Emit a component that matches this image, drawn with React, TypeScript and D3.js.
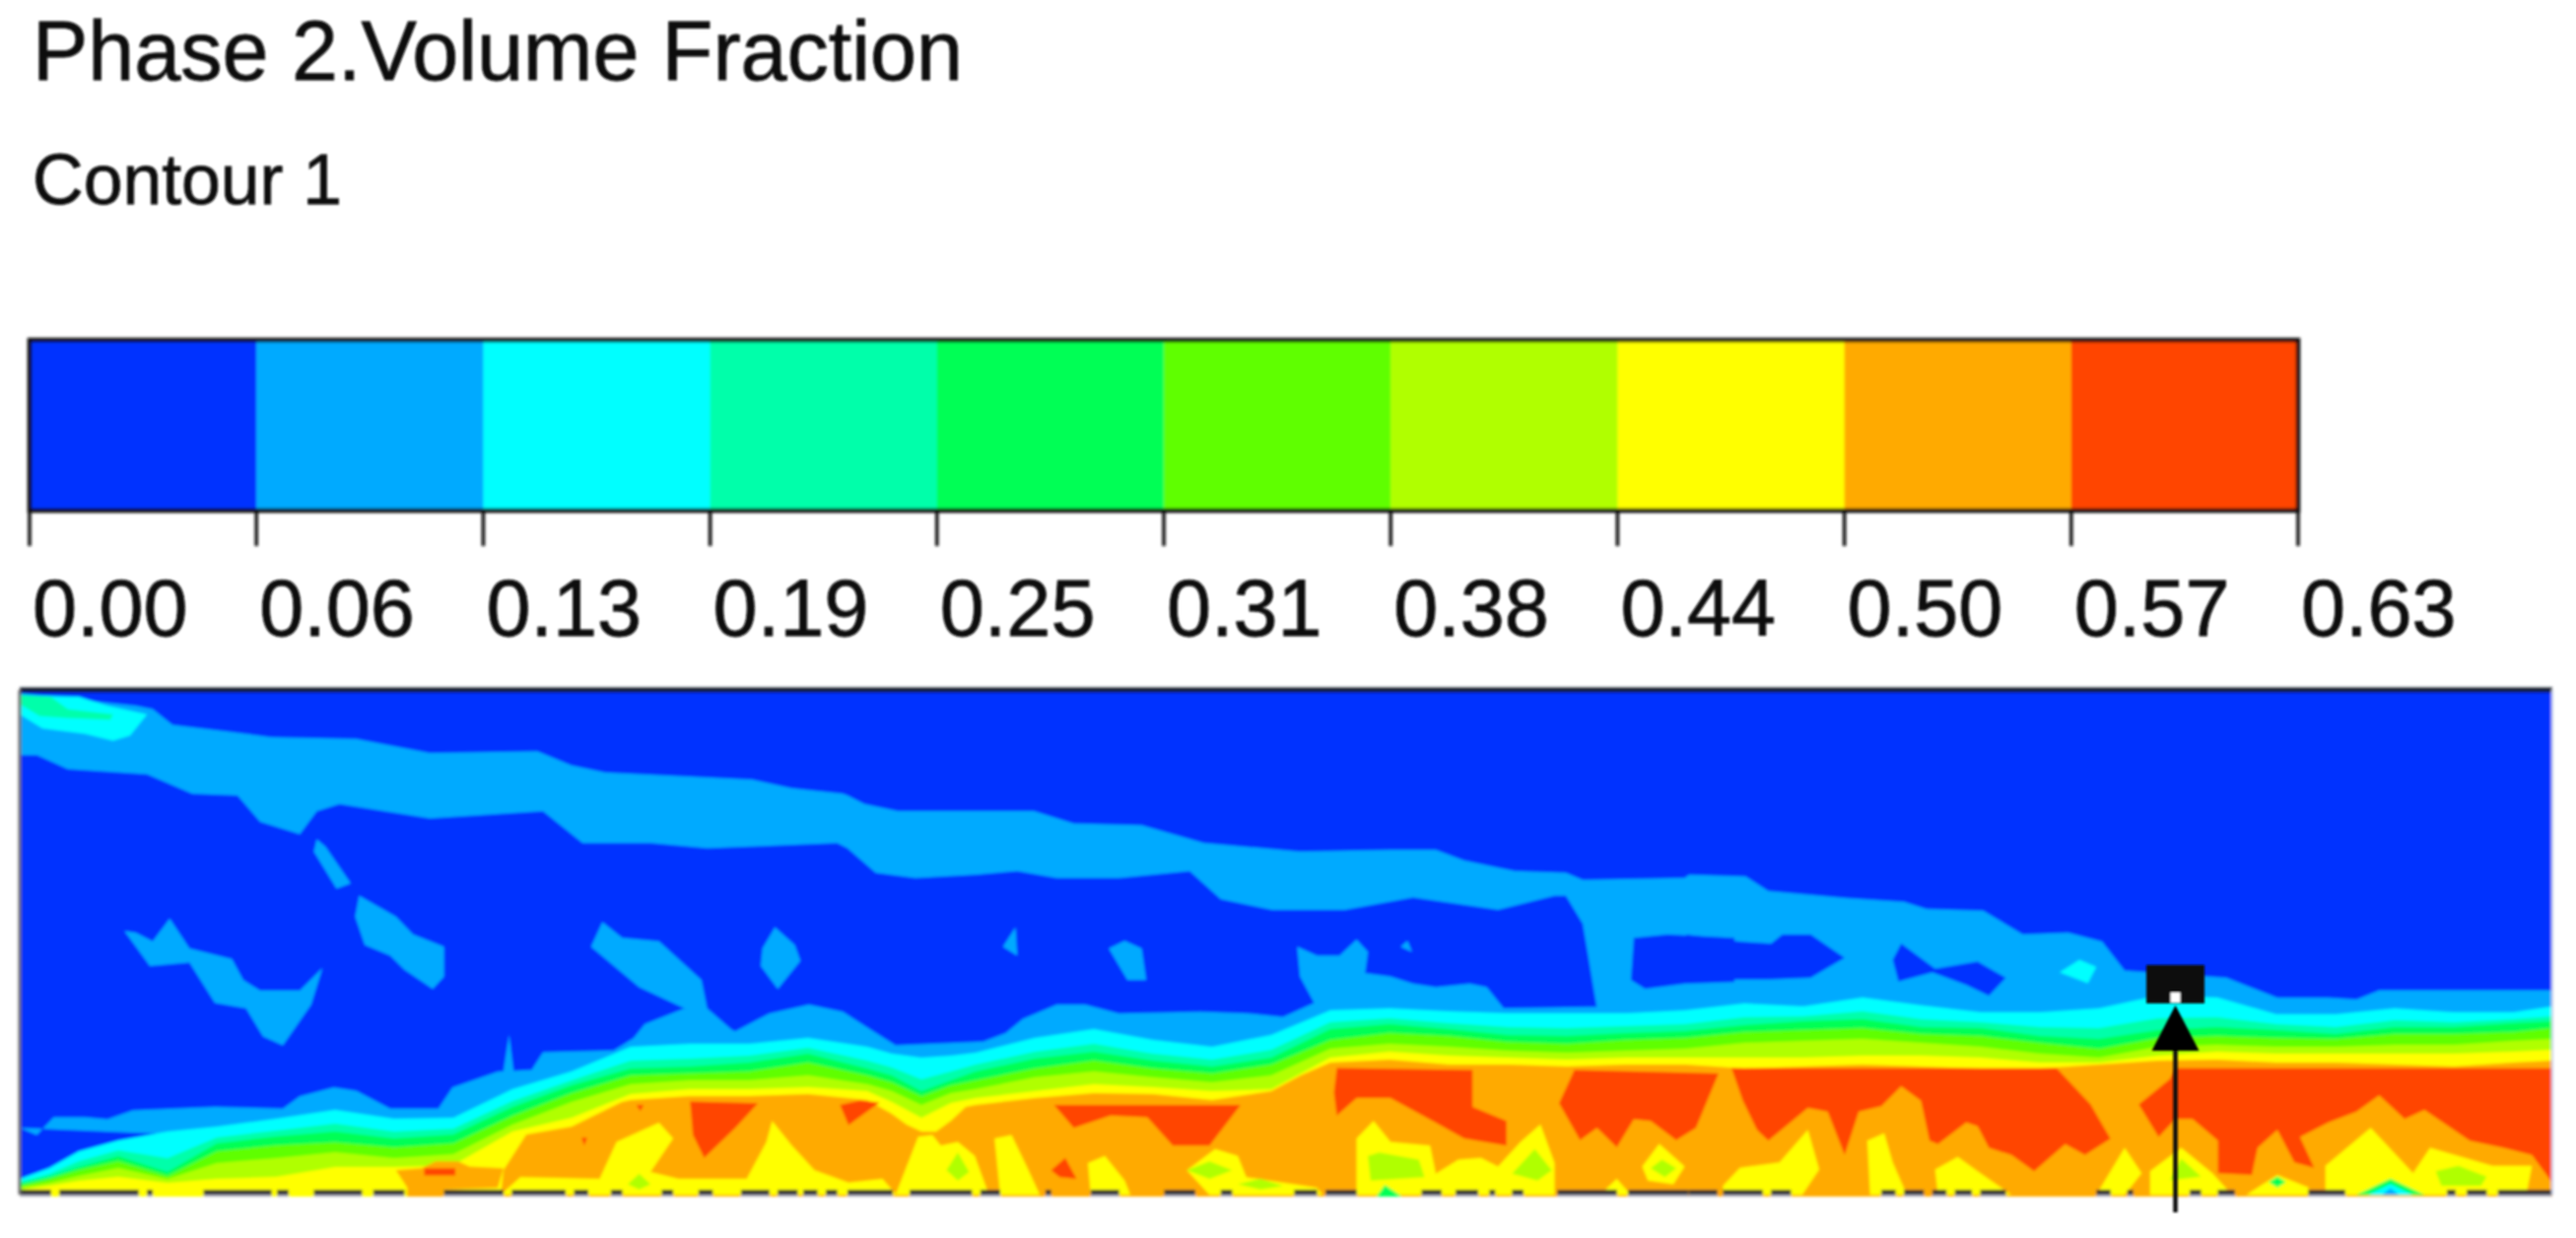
import React from "react";
import * as d3 from "d3";

// ---------- legend ----------
const title = "Phase 2.Volume Fraction";
const subtitle = "Contour 1";
const tickLabels = ["0.00","0.06","0.13","0.19","0.25","0.31","0.38","0.44","0.50","0.57","0.63"];
const levelColors = ["#0033ff","#00aaff","#00ffff","#00ffaa","#00ff55","#5fff00","#b0ff00","#ffff00","#ffaa00","#ff4400"];

// ---------- channel field: interface heights per station (grid units above the bed) ----------
const stations = [0,30,60,100,150,200,260,320,380,440,500,560,620,680,740,800,860,885,915,945,970,1030,1090,1150,1210,1270,1330,1390,1450,1510,1570,1630,1690,1750,1810,1870,1930,1990,2050,2110,2170,2230,2290,2350,2410,2470,2530,2570];
const cyanTop = [14,25,42,53,62,67,75,84,75,76,105,123,148,151,151,157,148,141,137,139,142,157,166,155,148,160,185,187,184,182,182,182,185,192,189,198,190,183,183,187,200,198,181,181,187,183,183,189];
const aquaTop = [11,19,32,43,35,56,63,70,62,65,93,114,134,136,139,147,134,127,115,123,130,143,151,141,135,145,173,177,172,168,167,169,171,178,179,184,176,173,168,167,177,178,171,168,175,173,176,179];
const greenTop = [9,16,26,37,21,50,57,62,55,59,87,109,126,128,132,141,126,119,103,114,123,136,143,134,128,137,166,171,166,160,159,162,164,170,174,176,168,167,159,156,165,168,165,161,168,168,172,174];
const limeTop = [7,14,23,32,17,42,48,51,46,50,78,101,119,121,123,132,119,112,98,109,114,126,134,126,121,130,155,162,159,153,151,155,157,163,165,167,161,159,152,146,157,159,157,156,161,161,163,167];
const yellowGreenTop = [5,10,17,25,14,30,35,41,35,39,69,92,110,114,114,119,110,103,89,101,105,117,123,117,112,119,146,151,148,144,142,144,146,152,154,156,152,148,141,137,148,150,148,148,150,150,154,156];
const yellowTop = [3,7,12,16,10,14,16,26,26,28,62,76,100,105,105,107,103,92,76,91,96,103,110,107,103,105,137,143,139,137,135,137,137,137,137,139,139,137,132,132,139,143,141,141,141,141,143,145];
const orangeStations = [488,491,514,560,611,620,680,740,800,860,885,900,915,930,945,960,970,1030,1090,1150,1210,1270,1300,1330,1390,1450,1510,1570,1630,1690,1750,1810,1870,1930,1990,2050,2110,2170,2230,2290,2350,2410,2470,2530,2570];
const orangeTop = [-3,23,59,67,92,94,98,98,100,94,80,69,62,62,73,87,89,96,101,100,94,103,119,132,135,130,130,128,130,130,126,128,130,128,126,126,130,134,135,132,132,130,128,132,134];

// ---------- digitised outlines; three read-off windows calibrated onto the channel ----------
type Pt = [number, number];
const windowA = { off: -20, v0: 1484, k: 0.357 };
const windowB = { off: 840, v0: 1484, k: 0.357 };
const windowC = { off: 1694, v0: 1444, k: 0.367 };

const plumeTopA: Pt[] = [[35,65],[240,100],[270,110],[305,155],[410,175],[480,190],[630,195],[760,235],[950,230],[1010,270],[1070,290],[1330,310],[1400,335],[1490,350]];
const plumeTopB: Pt[] = [[0,355],[30,380],[90,400],[330,400],[400,435],[520,440],[630,490],[800,515],[960,510],[1040,510],[1090,540],[1180,570],[1270,575],[1300,595],[1480,590]];
const plumeTopC: Pt[] = [[0,565],[100,570],[140,610],[280,630],[380,640],[420,660],[520,665],[590,730],[670,725],[730,750],[770,830],[950,850],[1040,905],[1040,950],[0,950]];
const plumeBottomB: Pt[] = [[1568,960],[1325,960],[1300,720],[1270,640],[1250,640],[1150,680],[1000,645],[880,680],[750,680],[660,650],[605,570],[480,590],[370,590],[300,570],[230,580],[120,590],[50,575],[0,505]];
const plumeBottomA: Pt[] = [[1480,490],[1250,505],[1150,490],[1030,490],[960,400],[760,420],[600,380],[560,400],[530,465],[460,430],[420,355],[340,350],[260,295],[120,280],[65,240],[35,240]];

const holeLeftB: Pt[] = [[1390,760],[1450,750],[1568,760],[1568,885],[1480,890],[1410,905],[1385,880]];
const holeLeftC: Pt[] = [[-5,730],[90,750],[145,755],[165,730],[215,730],[275,795],[215,850],[140,855],[45,855],[-5,865]];
const holeMiddleC: Pt[] = [[375,755],[435,825],[510,805],[560,850],[530,900],[490,870],[430,835],[370,860],[360,800]];

const bedBandA: Pt[] = [[35,1300],[65,1320],[95,1270],[150,1270],[190,1275],[235,1250],[380,1240],[500,1245],[530,1210],[590,1185],[630,1195],[690,1245],[775,1245],[800,1185],[880,1140],[940,1135],[960,1085],[1085,1080],[1120,1045],[1140,1005],[1210,960],[1260,1000],[1300,1025],[1360,975],[1430,950],[1490,970]];
const bedBandB: Pt[] = [[40,1020],[85,1065],[240,1055],[280,1030],[310,990],[370,950],[420,950],[480,975],[625,970],[710,975],[770,985],[825,945],[800,870],[795,785],[830,810],[870,810],[900,765],[920,800],[915,860],[960,870],[1000,890],[1040,900],[1100,890],[1130,900],[1160,960],[1568,950]];
const bedBandC: Pt[] = [[1040,905],[1130,905],[1180,910],[1220,885],[1525,885],[1525,1460],[0,1460]];

const blobsA: Pt[][] = [
  [[560,480],[575,500],[620,605],[595,620],[555,515]],
  [[635,640],[700,700],[730,750],[785,785],[785,870],[765,905],[715,850],[690,810],[645,780],[628,700]],
  [[220,740],[240,745],[270,770],[300,705],[335,790],[410,820],[430,880],[460,910],[530,910],[570,845],[550,950],[500,1065],[465,1040],[435,960],[380,945],[335,830],[265,840]],
  [[1065,715],[1100,760],[1165,770],[1240,880],[1250,960],[1300,1030],[1260,1010],[1210,960],[1130,900],[1045,785]],
  [[1370,730],[1405,780],[1415,825],[1375,905],[1345,840],[1348,790]],
  [[900,1035],[908,1140],[890,1140]],
];
const blobsB: Pt[][] = [
  [[297,730],[300,810],[275,785]],
  [[490,768],[520,790],[528,880],[495,880],[462,790]],
  [[990,768],[998,800],[978,785]],
];

const cornerCyanA: Pt[] = [[35,70],[140,75],[190,100],[260,125],[230,185],[200,200],[150,180],[75,165],[35,125]];
const cornerAquaA: Pt[] = [[35,70],[90,75],[120,110],[200,125],[195,140],[120,135],[70,130],[35,95]];
const islandCyanC: Pt[] = [[690,800],[720,820],[705,865],[655,835]];

const orangePatchA: Pt[] = [[700,1420],[745,1415],[770,1395],[810,1395],[830,1410],[890,1415],[880,1470],[785,1475],[785,1500],[720,1500],[720,1470]];

const redA: Pt[][] = [
  [[1220,1225],[1340,1230],[1300,1300],[1245,1385],[1225,1320]],
  [[1485,1235],[1520,1222],[1555,1228],[1500,1292]],
  [[750,1415],[805,1415],[805,1435],[750,1435]],
  [[1125,1235],[1138,1235],[1132,1252]],
  [[1028,1328],[1038,1328],[1033,1350]],
  [[1270,1484],[1300,1445],[1310,1484]],
];
const redB: Pt[][] = [
  [[365,1235],[695,1235],[640,1350],[575,1350],[530,1270],[465,1265],[400,1300]],
  [[865,1130],[1105,1135],[1105,1240],[1165,1280],[1165,1350],[1090,1330],[1040,1285],[960,1215],[900,1215],[865,1265],[860,1200]],
  [[1285,1135],[1540,1145],[1500,1300],[1465,1335],[1420,1280],[1390,1275],[1360,1355],[1325,1300],[1295,1335],[1258,1230]],
  [[360,1420],[385,1385],[405,1445],[375,1440]],
];
const redC: Pt[][] = [
  [[75,1100],[650,1100],[710,1200],[745,1295],[700,1340],[665,1310],[610,1385],[570,1340],[530,1320],[510,1260],[490,1250],[440,1310],[425,1300],[410,1190],[375,1150],[340,1205],[300,1220],[275,1340],[245,1220],[210,1210],[140,1300],[120,1270],[95,1190]],
  [[860,1100],[1525,1100],[1525,1415],[1490,1340],[1440,1320],[1380,1300],[1300,1215],[1265,1240],[1220,1175],[1180,1220],[1130,1250],[1080,1290],[1105,1375],[1070,1360],[1040,1270],[1005,1320],[995,1395],[935,1390],[935,1300],[890,1240],[860,1240],[830,1290],[795,1200],[850,1130]],
];

const yellowA: Pt[][] = [
  [[885,1490],[920,1440],[1060,1445],[1090,1340],[1165,1285],[1190,1330],[1150,1425],[1200,1445],[1320,1445],[1355,1340],[1365,1280],[1400,1350],[1440,1420],[1500,1455],[1560,1445],[1585,1490]],
];
const yellowB: Pt[][] = [
  [[125,1325],[85,1490],[250,1490],[225,1380],[195,1340],[165,1350],[150,1320]],
  [[260,1330],[290,1320],[320,1420],[340,1490],[270,1490]],
  [[425,1400],[455,1380],[490,1450],[500,1490],[430,1490]],
  [[600,1420],[650,1360],[690,1380],[705,1440],[830,1470],[840,1490],[640,1490]],
  [[900,1330],[930,1280],[960,1340],[1030,1350],[1040,1430],[1080,1390],[1120,1385],[1150,1410],[1190,1340],[1225,1290],[1250,1400],[1250,1490],[900,1490]],
  [[1405,1410],[1435,1345],[1480,1410],[1460,1460],[1415,1450]],
  [[1330,1490],[1360,1445],[1385,1490]],
];
const yellowC: Pt[][] = [
  [[60,1450],[60,1425],[90,1375],[160,1360],[210,1270],[230,1380],[200,1450]],
  [[315,1300],[345,1280],[360,1360],[385,1450],[320,1450]],
  [[435,1380],[475,1345],[510,1385],[570,1450],[440,1450]],
  [[720,1450],[770,1320],[800,1390],[770,1450]],
  [[815,1385],[870,1320],[925,1390],[960,1450],[815,1450]],
  [[985,1450],[1040,1395],[1095,1430],[1095,1450]],
  [[1125,1450],[1125,1370],[1205,1265],[1280,1390],[1310,1320],[1420,1370],[1490,1370],[1480,1450]],
];
const yellowGreenA: Pt[][] = [[[1110,1460],[1130,1430],[1150,1460],[1130,1475]]];
const yellowGreenB: Pt[][] = [
  [[175,1420],[195,1370],[215,1425],[195,1450]],
  [[600,1420],[640,1395],[680,1420],[640,1445]],
  [[920,1380],[940,1370],[1010,1390],[1020,1440],[925,1450]],
  [[1175,1430],[1215,1360],[1245,1420],[1220,1450]],
  [[1420,1415],[1440,1390],[1465,1415],[1445,1440]],
  [[690,1460],[730,1445],[770,1465],[730,1475]],
];
const yellowGreenC: Pt[][] = [
  [[870,1350],[905,1400],[850,1410]],
  [[1320,1385],[1360,1370],[1410,1400],[1400,1425],[1330,1425]],
];
const greenC: Pt[][] = [
  [[1025,1415],[1040,1400],[1055,1415],[1040,1430]],
  [[1180,1450],[1240,1405],[1300,1450]],
];
const greenB: Pt[][] = [[[935,1495],[950,1462],[980,1495]]];
const cyanC: Pt[][] = [[[1200,1450],[1240,1420],[1280,1450]]];
const blueC: Pt[][] = [[[1225,1450],[1240,1432],[1255,1450]]];

// dark dashes along the bed (start, end) per read-off window
const bedDashesA: Pt[] = [[35,90],[105,245],[260,270],[360,480],[490,510],[555,640],[660,715],[785,890],[905,1000],[1015,1040],[1080,1100],[1170,1190],[1235,1260],[1310,1360],[1375,1410],[1420,1445],[1460,1480]];
const bedDashesB: Pt[] = [[0,80],[110,220],[235,270],[350,360],[430,480],[560,615],[660,680],[790,830],[845,900],[1015,1050],[1075,1115],[1135,1145],[1175,1195],[1255,1360],[1380,1487]];
const bedDashesC: Pt[] = [[0,50],[60,130],[145,180],[340,365],[380,415],[430,455],[470,500],[515,560],[720,745],[775,785],[885,905],[935,965],[1095,1160],[1340,1355],[1375,1410],[1430,1525]];

// probe marker and arrow, channel units
const probeX = 2187.5;
const probeHalfWidth = 29.5;
const probeTop = 231;
const probeBottom = 192;
const arrowTip = 190;
const arrowBase = 144;
const arrowHalfWidth = 24;
const arrowTail = -20;

// ---------- scales ----------
const WIDTH = 2614, HEIGHT = 1256;
const xScale = d3.scaleLinear().domain([0, 2570]).range([20, 2590]);
const yScale = d3.scaleLinear().domain([0, 510]).range([1210, 700]);
const barX = d3.scaleLinear().domain([0, tickLabels.length - 1]).range([30, 2332]);
const BAR_TOP = 345, BAR_BOTTOM = 518, TICK_BOTTOM = 554;
const BASE = -4;

type Win = { off: number; v0: number; k: number };
const toChannel = (w: Win) => ([u, v]: Pt): Pt => [u * 0.574 + w.off, (w.v0 - v) * w.k];
const poly = (...parts: [Win, Pt[]][]) => parts.flatMap(([w, pts]) => pts.map(toChannel(w)));
const many = (w: Win, list: Pt[][]) => list.map((pts) => poly([w, pts]));

const outline = d3.line<Pt>().x((d) => xScale(d[0])).y((d) => yScale(d[1]));
const closed = (pts: Pt[]) => outline(pts) + "Z";
const stack = (xs: number[], hs: number[]) =>
  d3.area<number>().x((_, i) => xScale(xs[i])).y0(yScale(BASE)).y1((d) => yScale(d))(hs) as string;

type Shape = { level: number; d: string };
const fromPolys = (level: number, list: Pt[][]): Shape[] => list.map((p) => ({ level, d: closed(p) }));

const plume = poly([windowA, plumeTopA], [windowB, plumeTopB], [windowC, plumeTopC], [windowB, plumeBottomB], [windowA, plumeBottomA]);
const bedBand = poly([windowA, bedBandA], [windowB, bedBandB], [windowC, bedBandC]);

const shapes: Shape[] = [
  ...fromPolys(1, [plume]),
  ...fromPolys(0, [poly([windowB, holeLeftB]), poly([windowC, holeLeftC]), poly([windowC, holeMiddleC])]),
  ...fromPolys(1, many(windowA, blobsA)),
  ...fromPolys(1, many(windowB, blobsB)),
  ...fromPolys(1, [bedBand]),
  ...fromPolys(2, [poly([windowA, cornerCyanA]), poly([windowC, islandCyanC])]),
  ...fromPolys(3, [poly([windowA, cornerAquaA])]),
  { level: 2, d: stack(stations, cyanTop) },
  { level: 3, d: stack(stations, aquaTop) },
  { level: 4, d: stack(stations, greenTop) },
  { level: 5, d: stack(stations, limeTop) },
  { level: 6, d: stack(stations, yellowGreenTop) },
  { level: 7, d: stack(stations, yellowTop) },
  { level: 8, d: stack(orangeStations, orangeTop) },
  ...fromPolys(8, [poly([windowA, orangePatchA])]),
  ...fromPolys(9, many(windowA, redA)),
  ...fromPolys(9, many(windowB, redB)),
  ...fromPolys(9, many(windowC, redC)),
  ...fromPolys(7, many(windowA, yellowA)),
  ...fromPolys(7, many(windowB, yellowB)),
  ...fromPolys(7, many(windowC, yellowC)),
  ...fromPolys(6, many(windowA, yellowGreenA)),
  ...fromPolys(6, many(windowB, yellowGreenB)),
  ...fromPolys(6, many(windowC, yellowGreenC)),
  ...fromPolys(4, many(windowB, greenB)),
  ...fromPolys(4, many(windowC, greenC)),
  ...fromPolys(2, many(windowC, cyanC)),
  ...fromPolys(1, many(windowC, blueC)),
];

const dashSpans = [
  ...bedDashesA.map(([a, b]) => [a * 0.574 + windowA.off, b * 0.574 + windowA.off]),
  ...bedDashesB.map(([a, b]) => [a * 0.574 + windowB.off, b * 0.574 + windowB.off]),
  ...bedDashesC.map(([a, b]) => [a * 0.574 + windowC.off, b * 0.574 + windowC.off]),
];

const FONT = "'Liberation Sans', Arial, sans-serif";
const INK = "#0a0a0a";

export default function App() {
  const step = barX(1) - barX(0);
  return (
    <svg width={WIDTH} height={HEIGHT} viewBox={`0 0 ${WIDTH} ${HEIGHT}`} style={{ position: "fixed", left: 0, top: 0, background: "#fff" }}>
      <defs>
        <filter id="soft" x="-2%" y="-5%" width="104%" height="110%"><feGaussianBlur stdDeviation="1.6" /></filter>
        <filter id="softText" x="-5%" y="-20%" width="110%" height="140%"><feGaussianBlur stdDeviation="0.9" /></filter>
        <clipPath id="field"><rect x={xScale(0)} y={yScale(510)} width={xScale(2570) - xScale(0)} height={yScale(BASE) - yScale(510)} /></clipPath>
      </defs>

      <g fontFamily={FONT} fill={INK} stroke={INK} strokeWidth={0.8} filter="url(#softText)">
        <text x={33} y={81} fontSize={84.5}>{title}</text>
        <text x={33} y={207} fontSize={71.5}>{subtitle}</text>
        {tickLabels.map((t, i) => (
          <text key={t} x={barX(i) + 3} y={645} fontSize={81}>{t}</text>
        ))}
      </g>

      <g filter="url(#soft)">
        {levelColors.map((c, i) => (
          <rect key={c} x={barX(i)} y={BAR_TOP} width={step + 0.5} height={BAR_BOTTOM - BAR_TOP} fill={c} />
        ))}
        <rect x={barX(0)} y={BAR_TOP} width={barX(10) - barX(0)} height={BAR_BOTTOM - BAR_TOP} fill="none" stroke="#111" strokeWidth={4.5} />
        {tickLabels.map((t, i) => (
          <line key={t} x1={barX(i)} x2={barX(i)} y1={BAR_BOTTOM} y2={TICK_BOTTOM} stroke="#111" strokeWidth={3.5} />
        ))}
      </g>

      <g filter="url(#soft)">
        <g clipPath="url(#field)">
          <rect x={xScale(0)} y={yScale(510)} width={xScale(2570) - xScale(0)} height={yScale(BASE) - yScale(510)} fill={levelColors[0]} />
          {shapes.map((s, i) => (
            <path key={i} d={s.d} fill={levelColors[s.level]} />
          ))}
          {dashSpans.map(([a, b], i) => (
            <g key={i}>
              <rect x={xScale(a)} y={yScale(-2)} width={xScale(b) - xScale(a)} height={yScale(-4) - yScale(-2)} fill="#a8a8b8" />
              <rect x={xScale(a)} y={yScale(3)} width={xScale(b) - xScale(a)} height={yScale(-2) - yScale(3)} fill="#2c2c2c" />
            </g>
          ))}
        </g>
        <line x1={xScale(0)} x2={xScale(2570)} y1={yScale(510)} y2={yScale(510)} stroke="#101828" strokeWidth={5} />
        <line x1={xScale(0)} x2={xScale(0)} y1={yScale(510)} y2={yScale(-2)} stroke="#6a6a6a" strokeWidth={3} />
        <line x1={xScale(2570)} x2={xScale(2570)} y1={yScale(510)} y2={yScale(-2)} stroke="#c8d0e8" strokeWidth={2} />
      </g>

      <g filter="url(#softText)">
        <rect x={xScale(probeX - probeHalfWidth)} y={yScale(probeTop)} width={xScale(probeHalfWidth * 2) - xScale(0)} height={yScale(probeBottom) - yScale(probeTop)} fill="#111" />
        <rect x={xScale(probeX - 5)} y={yScale(probeBottom + 11)} width={xScale(10) - xScale(0)} height={yScale(probeBottom + 1) - yScale(probeBottom + 11)} fill="#fff" />
        <path d={closed([[probeX, arrowTip], [probeX - arrowHalfWidth, arrowBase], [probeX + arrowHalfWidth, arrowBase]])} fill="#000" />
        <line x1={xScale(probeX)} x2={xScale(probeX)} y1={yScale(arrowBase)} y2={yScale(arrowTail)} stroke="#111" strokeWidth={4.5} />
      </g>
    </svg>
  );
}
